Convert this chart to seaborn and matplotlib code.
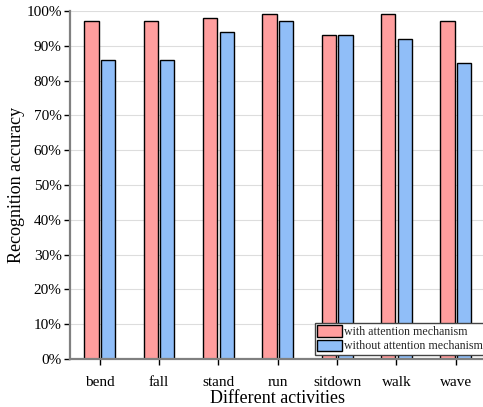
import matplotlib
matplotlib.use("Agg")
import matplotlib.pyplot as plt
import pandas as pd
import seaborn as sns
from matplotlib.ticker import PercentFormatter

activities = ["bend", "fall", "stand", "run", "sitdown", "walk", "wave"]
with_attention = [97, 97, 98, 99, 93, 99, 97]
without_attention = [86, 86, 94, 97, 93, 92, 85]
series_names = ["with attention mechanism", "without attention mechanism"]

df = pd.DataFrame({
    "activity": activities * 2,
    "accuracy": with_attention + without_attention,
    "method": [series_names[0]] * len(activities) + [series_names[1]] * len(activities),
})

sns.set_theme(style="whitegrid")
plt.rcParams["font.family"] = ["Liberation Serif", "DejaVu Serif"]

fig = plt.figure(figsize=(4.83, 4.07), dpi=100)
ax = fig.add_axes([0.145, 0.118, 0.86, 0.855])

sns.barplot(
    data=df, x="activity", y="accuracy", hue="method",
    palette=["#ff9e9e", "#90bef8"], saturation=1, width=0.56, gap=0.14,
    edgecolor="black", linewidth=1.0, ax=ax,
)

ax.set_ylim(0, 100)
ax.set_xlim(-0.5, len(activities) - 0.5)
ax.set_yticks(range(0, 101, 10))
ax.yaxis.set_major_formatter(PercentFormatter(decimals=0))
ax.grid(axis="y", color="#dddddd", linewidth=0.8)
ax.grid(axis="x", visible=False)

for side in ["top", "right"]:
    ax.spines[side].set_visible(False)
for side in ["left", "bottom"]:
    ax.spines[side].set_color("#808080")
    ax.spines[side].set_linewidth(1.6)

ax.tick_params(axis="both", which="both", length=4, width=1, color="black",
               labelsize=11, labelcolor="black", direction="out",
               left=True, bottom=True)
ax.tick_params(axis="x", pad=8)
ax.tick_params(axis="y", pad=2)

ax.set_xlabel("Different activities", fontsize=13, color="black", labelpad=1)
ax.set_ylabel("Recognition accuracy", fontsize=13, color="black", labelpad=1)

leg = ax.legend(loc="lower right", bbox_to_anchor=(1.0, 0.012), fontsize=8.6,
                frameon=True, fancybox=False, framealpha=1, edgecolor="#444444",
                borderpad=0.2, handlelength=2.1, handleheight=1.1,
                handletextpad=0.15, labelspacing=0.12, borderaxespad=0)
leg.get_frame().set_linewidth(1.0)

fig.savefig("out.png", dpi=100)
plt.close(fig)
